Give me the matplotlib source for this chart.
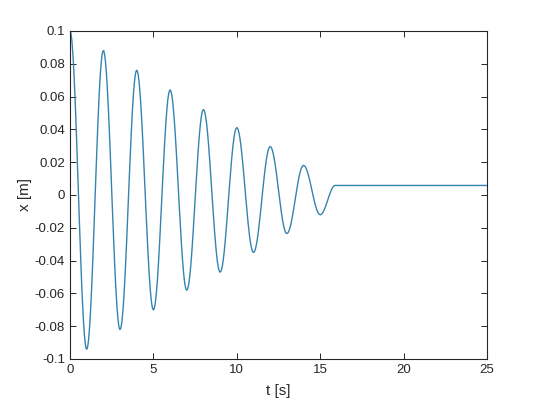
import numpy as np
import matplotlib.pyplot as plt

# turning points of the response
turn_t = [0, 1, 2, 3, 4, 5, 6, 7, 8, 9, 10, 11, 12, 13, 14, 15, 15.9]
turn_x = [0.1, -0.094, 0.088, -0.082, 0.076, -0.070, 0.064, -0.058, 0.052,
          -0.047, 0.041, -0.035, 0.0295, -0.0235, 0.018, -0.012, 0.0058]
t_end = 25

# half-cosine swing between successive turning points, then at rest
t_all, x_all = [], []
for i in range(len(turn_t) - 1):
    t0, t1 = turn_t[i], turn_t[i + 1]
    x0, x1 = turn_x[i], turn_x[i + 1]
    tt = np.linspace(t0, t1, 60)
    xx = (x0 + x1) / 2 + (x0 - x1) / 2 * np.cos(np.pi * (tt - t0) / (t1 - t0))
    t_all.extend(tt)
    x_all.extend(xx)
t_all.append(t_end)
x_all.append(turn_x[-1])

plt.rcParams['font.family'] = ['Liberation Sans', 'DejaVu Sans']

fig = plt.figure(figsize=(5.4, 4.05), dpi=100)
ax = fig.add_axes([0.1296, 0.1136, 0.7723, 0.81])
ax.plot(t_all, x_all, color='#3584ad', linewidth=1.0)

ax.set_xlim(0, 25)
ax.set_ylim(-0.1, 0.1)
ax.set_xticks([0, 5, 10, 15, 20, 25])
ax.set_xticklabels(['0', '5', '10', '15', '20', '25'])
yt = [-0.1, -0.08, -0.06, -0.04, -0.02, 0, 0.02, 0.04, 0.06, 0.08, 0.1]
ax.set_yticks(yt)
ax.set_yticklabels(['-0.1', '-0.08', '-0.06', '-0.04', '-0.02', '0',
                    '0.02', '0.04', '0.06', '0.08', '0.1'])
ax.tick_params(direction='in', top=True, right=True, length=4, width=0.7,
               labelsize=9.5, colors='#262626')
for s in ax.spines.values():
    s.set_linewidth(0.8)
    s.set_color('#262626')
ax.set_xlabel('t [s]', fontsize=11, color='#262626', labelpad=6)
ax.set_ylabel('x [m]', fontsize=11, color='#262626', labelpad=2)

fig.savefig('out.png', dpi=100)
